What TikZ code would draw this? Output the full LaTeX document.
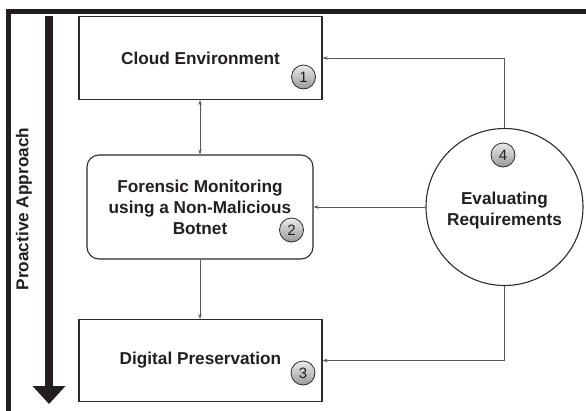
\documentclass[tikz,border=0pt]{standalone}
\usepackage{fontspec}
\setmainfont{Liberation Sans}
\usetikzlibrary{arrows.meta}
\definecolor{ink}{HTML}{231F20}
\definecolor{edge}{HTML}{2E2B2C}
\definecolor{wire}{HTML}{5A5758}
\tikzset{
  lbl/.style={font=\fontsize{17.2}{21}\selectfont\bfseries, text=ink, align=center},
  stepbox/.style={draw=edge, line width=1.1pt, fill=white, lbl},
  badge/.style={circle, draw=edge, line width=0.8pt, minimum size=24pt, inner sep=0pt,
    top color=white!92!black, bottom color=black!40, text=ink,
    font=\fontsize{15}{15}\selectfont},
  wirearrow/.style={draw=wire, line width=0.8pt, -{Stealth[length=5pt,width=3.5pt]}}
}
\begin{document}
\begin{tikzpicture}[x=1pt,y=-1pt]
\useasboundingbox[fill=white] (0,0) rectangle (586,410);

% outer frame, running past the page edges
\draw[ink, line width=5pt, line join=miter] (8,420) -- (8,11.5) -- (600,11.5);

% downward arrow of the approach
\fill[ink] (45,16) rectangle (53,387);
\fill[ink] (32.5,386) -- (65.5,386) -- (49,404) -- cycle;
\node[lbl, rotate=90] (approach) at (24,209) {Proactive Approach};

% process steps
\node[stepbox, minimum width=243pt, minimum height=83pt] (cloud) at (200.5,58) {Cloud Environment};
\node[stepbox, rounded corners=12pt, minimum width=226pt, minimum height=104pt] (monitor) at (200,207)
  {Forensic Monitoring\\using a Non-Malicious\\Botnet};
\node[stepbox, minimum width=243pt, minimum height=82pt] (preserve) at (200.5,360.5) {Digital Preservation};
\node[stepbox, circle, minimum size=157pt, inner sep=0pt] (eval) at (504.5,207) {\\[-2pt]Evaluating\\Requirements};

% step numbers
\node[badge] (n1) at (303.5,77) {1};
\node[badge] (n2) at (291.5,230) {2};
\node[badge] (n3) at (303,373) {3};
\node[badge] (n4) at (503,155) {4};

% connectors
\draw[wire, line width=0.8pt, {Stealth[length=5pt,width=3.5pt]}-{Stealth[length=5pt,width=3.5pt]}]
  (cloud.south -| monitor.north) -- (monitor.north);
\draw[wirearrow] (monitor.south) -- (monitor.south |- preserve.north);
\draw[wirearrow] (eval.north) |- (cloud.east);
\draw[wirearrow] (eval.west) -- (monitor.east);
\draw[wirearrow] (eval.south) |- (preserve.east);
\end{tikzpicture}
\end{document}
